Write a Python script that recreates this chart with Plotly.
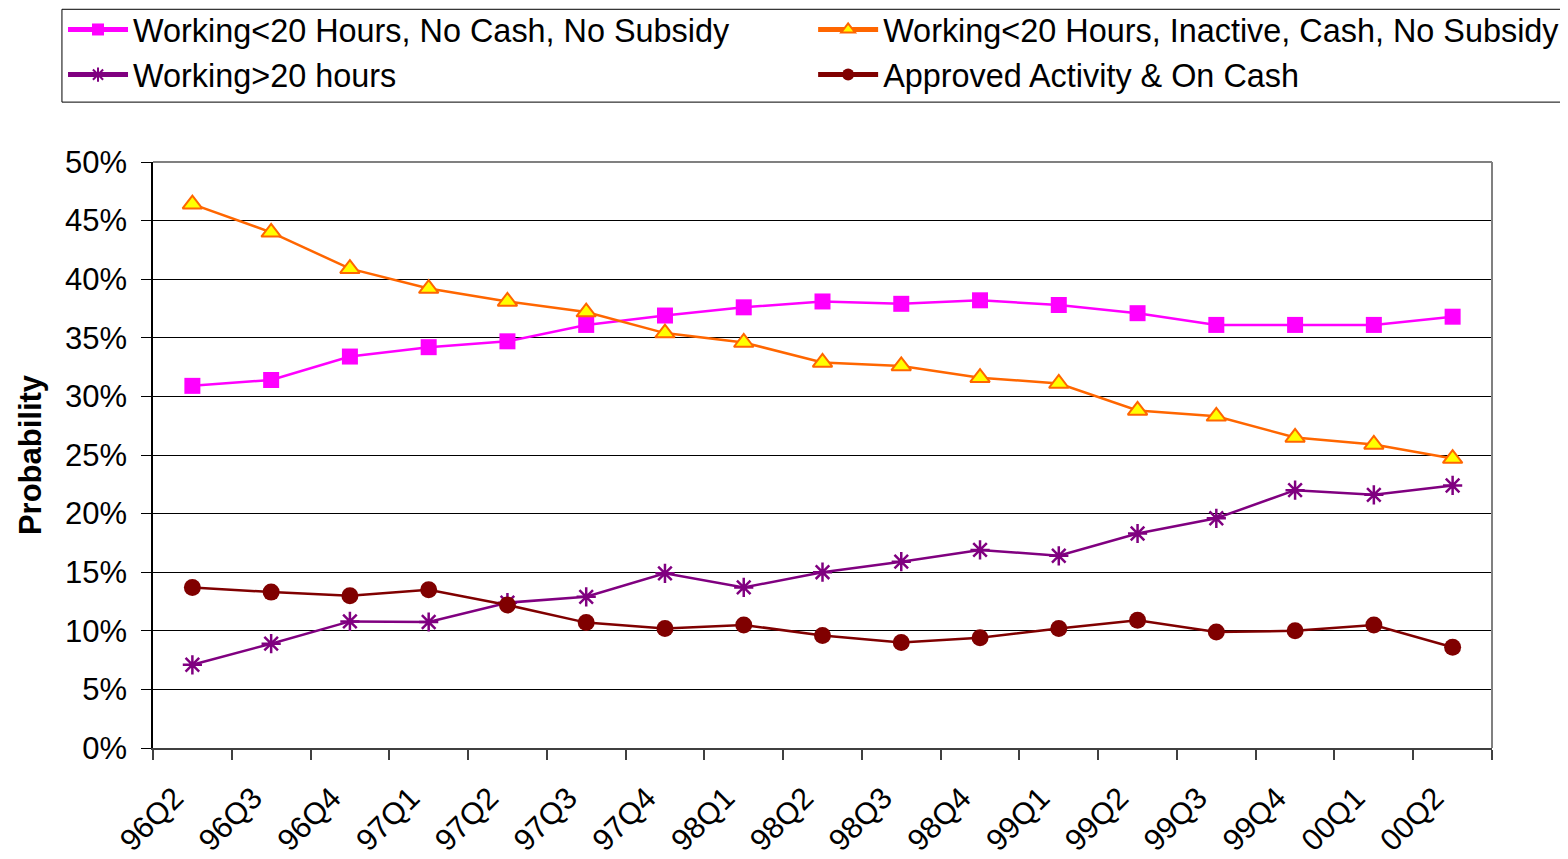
import plotly.graph_objects as go

quarters = ["96Q2", "96Q3", "96Q4", "97Q1", "97Q2", "97Q3", "97Q4", "98Q1", "98Q2",
            "98Q3", "98Q4", "99Q1", "99Q2", "99Q3", "99Q4", "00Q1", "00Q2"]

no_cash_no_subsidy = [30.9, 31.4, 33.4, 34.2, 34.7, 36.1, 36.9, 37.6, 38.1, 37.9, 38.2,
                      37.8, 37.1, 36.1, 36.1, 36.1, 36.8]
inactive_cash_no_subsidy = [46.4, 44.0, 40.9, 39.2, 38.1, 37.2, 35.4, 34.6, 32.9, 32.6, 31.6,
                            31.1, 28.8, 28.3, 26.5, 25.9, 24.7]
working_gt20 = [7.1, 8.9, 10.8, 10.75, 12.4, 12.9, 14.9, 13.7, 15.0, 15.9, 16.9,
                16.4, 18.3, 19.6, 22.0, 21.6, 22.4]
approved_on_cash = [13.7, 13.3, 13.0, 13.5, 12.2, 10.7, 10.2, 10.5, 9.6, 9.0, 9.4,
                    10.2, 10.9, 9.9, 10.0, 10.5, 8.6]

FONT = "Liberation Sans, Arial, sans-serif"

def pct(v):
    return [x / 100 for x in v]

fig = go.Figure()
fig.add_trace(go.Scatter(
    x=quarters, y=pct(no_cash_no_subsidy), mode="lines+markers",
    name="Working<20 Hours, No Cash, No Subsidy", legend="legend",
    line=dict(color="#FF00FF", width=2.5),
    marker=dict(symbol="square", size=16, color="#FF00FF")))
fig.add_trace(go.Scatter(
    x=quarters, y=pct(inactive_cash_no_subsidy), mode="lines+markers",
    name="Working<20 Hours, Inactive, Cash, No Subsidy", legend="legend2",
    line=dict(color="#FF6600", width=2.5),
    marker=dict(symbol="triangle-up", size=17, color="#FFFF00",
                line=dict(color="#FF6600", width=2))))
fig.add_trace(go.Scatter(
    x=quarters, y=pct(working_gt20), mode="lines+markers",
    name="Working>20 hours", legend="legend",
    line=dict(color="#800080", width=2.5),
    marker=dict(symbol="asterisk-open", size=16, color="#800080",
                line=dict(color="#800080", width=2.5))))
fig.add_trace(go.Scatter(
    x=quarters, y=pct(approved_on_cash), mode="lines+markers",
    name="Approved Activity & On Cash", legend="legend2",
    line=dict(color="#800000", width=2.5),
    marker=dict(symbol="circle", size=17, color="#800000")))

legend_common = dict(
    orientation="v", xanchor="left", yanchor="middle", y=1.187,
    borderwidth=0, bgcolor="rgba(0,0,0,0)", itemwidth=60,
    font=dict(family=FONT, size=32.4, color="black"),
    traceorder="normal", itemsizing="constant")

fig.update_layout(
    width=1568, height=859,
    margin=dict(l=145, r=84, t=154, b=119, autoexpand=False),
    paper_bgcolor="white", plot_bgcolor="white",
    font=dict(family=FONT, size=31, color="black"),
    legend=dict(x=-0.0672, **legend_common),
    legend2=dict(x=0.4930, **legend_common),
    xaxis=dict(
        type="category", range=[-0.5, 16.5], tickson="boundaries",
        tickmode="array", tickvals=quarters,
        ticktext=[q + "\u00a0\u00a0\u00a0" for q in quarters],
        ticks="outside", ticklen=10, tickcolor="#404040", tickwidth=1.5,
        showline=True, linecolor="#404040", linewidth=2,
        showgrid=False, tickangle=-45, ticklabelstandoff=0,
        tickfont=dict(family=FONT, size=30.5, color="black")),
    yaxis=dict(
        range=[0, 0.5], dtick=0.05, tickformat=".0%",
        ticks="outside", ticklen=10, tickcolor="black",
        showline=True, linecolor="black", linewidth=1.5,
        showgrid=True, gridcolor="black", gridwidth=1,
        zeroline=False, ticklabelstandoff=8,
        tickfont=dict(family=FONT, size=31, color="black"),
        title=dict(text="<b>Probability</b>", standoff=14,
                   font=dict(family=FONT, size=31, color="black"))),
    shapes=[
        dict(type="line", xref="paper", yref="paper", x0=0, x1=1, y0=1, y1=1,
             line=dict(color="#808080", width=2)),
        dict(type="line", xref="paper", yref="paper", x0=1, x1=1, y0=0, y1=1,
             line=dict(color="#808080", width=2)),
        dict(type="rect", xref="paper", yref="paper", x0=-0.068, x1=1.0530,
             y0=1.1022, y1=1.2606, line=dict(color="black", width=1),
             fillcolor="rgba(0,0,0,0)", layer="below"),
    ],
)

fig.write_html("out.html")
